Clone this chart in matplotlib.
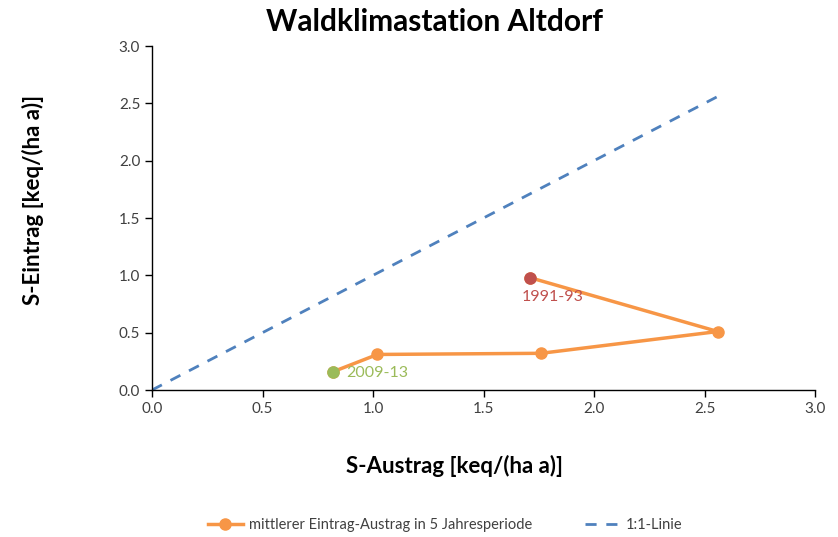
import matplotlib
matplotlib.use("Agg")
import matplotlib.pyplot as plt

# Data (chronological order: 1991-93 ... 2009-13)
austrag = [1.71, 2.56, 1.76, 1.02, 0.82]
eintrag = [0.98, 0.51, 0.32, 0.31, 0.16]
period_labels = ["1991-93", "2009-13"]
line11_x = [0.0, 2.57]
line11_y = [0.0, 2.57]

plt.rcParams['font.family'] = ['Lato', 'DejaVu Sans']

fig = plt.figure(figsize=(8.38, 5.37), dpi=100)
ax = fig.add_axes([152/838, 1-390/537, (815-152)/838, (390-46)/537])

orange = '#F79646'
ax.plot(austrag, eintrag, color=orange, lw=2.5, marker='o', ms=8,
        label='mittlerer Eintrag-Austrag in 5 Jahresperiode', zorder=3)
ax.plot(austrag[0], eintrag[0], 'o', color='#C0504D', ms=8, zorder=4)
ax.plot(austrag[-1], eintrag[-1], 'o', color='#9BBB59', ms=8, zorder=4)
ax.plot(line11_x, line11_y, color='#4F81BD', lw=2, ls=(0, (4, 3.5)),
        label='1:1-Linie', zorder=2)

ax.annotate(period_labels[0], (austrag[0], eintrag[0]), xytext=(-6, -9),
            textcoords='offset points', ha='left', va='top', color='#C0504D', fontsize=11.5)
ax.annotate(period_labels[1], (austrag[-1], eintrag[-1]), xytext=(9, -1),
            textcoords='offset points', ha='left', va='center', color='#9BBB59', fontsize=11.5)

ax.set_xlim(0, 3)
ax.set_ylim(0, 3)
ticks = [0, 0.5, 1.0, 1.5, 2.0, 2.5, 3.0]
ax.set_xticks(ticks)
ax.set_yticks(ticks)
ax.set_xticklabels([f"{t:.1f}" for t in ticks])
ax.set_yticklabels([f"{t:.1f}" for t in ticks])
ax.tick_params(direction='out', length=5, width=1, labelsize=11, labelcolor='#404040', color='black')
ax.spines['top'].set_visible(False)
ax.spines['right'].set_visible(False)
for s in ['left', 'bottom']:
    ax.spines[s].set_linewidth(1)

fig.text(454/838, 1-466/537, 'S-Austrag [keq/(ha a)]', ha='center', va='center',
         fontsize=16, fontweight='bold')
fig.text(33/838, 1-200/537, 'S-Eintrag [keq/(ha a)]', ha='center', va='center',
         fontsize=16, fontweight='bold', rotation=90)
fig.text(435/838, 1-22/537, 'Waldklimastation Altdorf', ha='center', va='center',
         fontsize=21.5, fontweight='bold')

fig.legend(loc='center', bbox_to_anchor=(445/838, 1-525/537), ncol=2, frameon=False,
           fontsize=10.5, handlelength=2.4, handletextpad=0.4, columnspacing=3.6,
           labelcolor='#404040')

fig.savefig('out.png', dpi=100)
